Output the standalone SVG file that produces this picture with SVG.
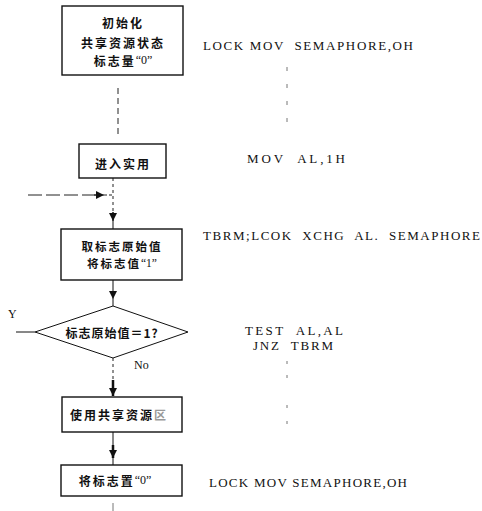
<svg xmlns="http://www.w3.org/2000/svg" width="482" height="511" viewBox="0 0 482 511">
<defs>
<style>
.box{fill:#fff;stroke:#111;stroke-width:1.4}
.cn{font-family:"Noto Sans CJK SC","Noto Sans CJK TC",sans-serif;font-size:12px;font-weight:bold;fill:#111;text-anchor:middle;dominant-baseline:central;letter-spacing:2px}
.q{font-family:"Liberation Serif","Times New Roman",serif;font-weight:normal;letter-spacing:0}
.code{font-family:"Liberation Serif","Times New Roman",serif;font-size:13px;fill:#111}
.lat{font-family:"Liberation Serif","Times New Roman",serif;font-size:12px;fill:#111}
.ln{fill:none;stroke:#111;stroke-width:1}
.dash{fill:none;stroke:#222;stroke-width:1;stroke-dasharray:6 4}
.dot{fill:none;stroke:#777;stroke-width:1;stroke-dasharray:3 13}
</style>
<marker id="ah" markerUnits="userSpaceOnUse" markerWidth="8" markerHeight="10" refX="8" refY="4" orient="auto">
<path d="M0,0 L8,4 L0,8 Z" fill="#111"/>
</marker>
</defs>
<rect width="482" height="511" fill="#fff"/>

<g id="connectors">
<line class="dash" x1="118" y1="88" x2="118" y2="134"/>
<line class="dash" x1="113" y1="178" x2="113" y2="212" style="stroke-dasharray:3 3"/>
<line class="ln" x1="113" y1="212" x2="113" y2="221" marker-end="url(#ah)" style="stroke-width:1.5"/>
<line class="ln" x1="113" y1="221" x2="113" y2="229"/>
<line class="dash" x1="28" y1="195" x2="98" y2="195" style="stroke-dasharray:14 4"/>
<line class="ln" x1="94" y1="195" x2="104" y2="195" marker-end="url(#ah)"/>
<line class="dash" x1="104" y1="195" x2="113" y2="195" style="stroke-dasharray:3 2"/>
<line class="ln" x1="113" y1="280" x2="113" y2="299" marker-end="url(#ah)"/>
<line class="ln" x1="113" y1="299" x2="113" y2="306"/>
<line class="dash" x1="113" y1="358" x2="113" y2="382" style="stroke-dasharray:3 3"/>
<line class="ln" x1="113" y1="380" x2="113" y2="396" marker-end="url(#ah)" style="stroke-width:2.5"/>
<line class="ln" x1="16" y1="332" x2="35" y2="332"/>
<line class="ln" x1="113" y1="432" x2="113" y2="446"/>
<line class="ln" x1="113" y1="445" x2="113" y2="458" marker-end="url(#ah)" style="stroke-width:2.5"/>
<line class="ln" x1="113" y1="458" x2="113" y2="465"/>
<line class="ln" x1="113" y1="503" x2="113" y2="511" style="stroke:#777"/>
<line class="dot" x1="287" y1="67" x2="287" y2="122" style="stroke-dasharray:4 13"/>
<line class="dot" x1="287" y1="361" x2="287" y2="381" style="stroke-dasharray:3 11"/>
<line class="dot" x1="287" y1="405" x2="287" y2="432" style="stroke-dasharray:3 13"/>
</g>

<g id="n1">
<rect class="box" x="62" y="6" width="121" height="69"/>
<text class="cn" x="123" y="22">初始化</text>
<text class="cn" x="123" y="42">共享资源状态</text>
<text class="cn" x="123" y="60">标志量<tspan class="q">“0”</tspan></text>
</g>
<g id="n2">
<rect class="box" x="79" y="144" width="87" height="34"/>
<text class="cn" x="123" y="163">进入实用</text>
</g>
<g id="n3">
<rect class="box" x="61" y="229" width="121" height="51"/>
<text class="cn" x="122" y="246" style="font-size:11.5px">取标志原始值</text>
<text class="cn" x="122" y="263" style="font-size:11.5px">将标志值<tspan class="q">“1”</tspan></text>
</g>
<g id="n4">
<polygon class="box" points="113,306 188,332 113,358 35,332" style="stroke-width:1"/>
<text class="cn" x="112" y="332" style="letter-spacing:1px">标志原始值＝1?</text>
</g>
<g id="n5">
<rect class="box" x="62" y="397" width="120" height="35"/>
<text class="cn" x="119" y="414">使用共享资源<tspan style="fill:#999">区</tspan></text>
</g>
<g id="n6">
<rect class="box" x="61" y="465" width="121" height="31"/>
<text class="cn" x="115" y="480">将标志置<tspan class="q">“0”</tspan></text>
</g>

<g id="labels">
<text class="lat" x="8" y="318">Y</text>
<text class="lat" x="134" y="369">No</text>
<text class="code" x="203" y="50" textLength="210" lengthAdjust="spacing" xml:space="preserve">LOCK MOV  SEMAPHORE,OH</text>
<text class="code" x="247" y="163" textLength="98" lengthAdjust="spacing" xml:space="preserve">MOV  AL,1H</text>
<text class="code" x="203" y="240" textLength="277" lengthAdjust="spacing" xml:space="preserve">TBRM;LCOK  XCHG  AL.  SEMAPHORE</text>
<text class="code" x="245" y="335" textLength="98" lengthAdjust="spacing" xml:space="preserve">TEST  AL,AL</text>
<text class="code" x="253" y="350" textLength="80" lengthAdjust="spacing" xml:space="preserve">JNZ  TBRM</text>
<text class="code" x="209" y="487" textLength="198" lengthAdjust="spacing" xml:space="preserve">LOCK MOV SEMAPHORE,OH</text>
</g>
</svg>
